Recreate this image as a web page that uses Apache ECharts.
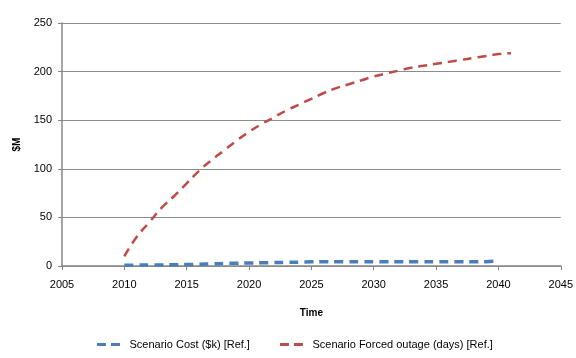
<!DOCTYPE html>
<html><head><meta charset="utf-8">
<script src="https://cdn.jsdelivr.net/npm/echarts@6/dist/echarts.min.js"></script>
<style>html,body{margin:0;padding:0;background:#fff}#c{width:576px;height:358px}</style>
</head><body><div id="c"></div>
<script>
const years = [2010,2011,2012,2013,2014,2015,2016,2017,2018,2019,2020,2021,2022,2023,2024,2025,2026,2027,2028,2029,2030,2031,2032,2033,2034,2035,2036,2037,2038,2039,2040,2041];
const costValues = [0.8,0.9,1,1.1,1.3,1.5,1.8,2.1,2.6,2.9,3.1,3.3,3.5,3.7,4.0,4.3,4.4,4.4,4.4,4.4,4.4,4.4,4.4,4.4,4.4,4.4,4.4,4.4,4.4,4.5,5.2,null];
const outageValues = [10,30,45,60,72,85,98,109,119,129,138,146,153,160,166,172,178,183,187,191,195,198,201,204,206,208,210,212,214,216,218,219];
const xTicks = {min:2005,max:2045,step:5};
const yTicks = {min:0,max:250,step:50};
const seriesNames = ['Scenario Cost ($k) [Ref.]','Scenario Forced outage (days) [Ref.]'];

const pairs = (vals) => years.map((y,i)=>[y,vals[i]]).filter(p=>p[1]!==null);
const font = 'Liberation Sans';
const chart = echarts.init(document.getElementById('c'));
chart.setOption({
  animation:false,
  backgroundColor:'#fff',
  grid:{left:62,right:13,top:23,bottom:92},
  xAxis:{type:'value',min:xTicks.min,max:xTicks.max,interval:xTicks.step,
    name:'Time',nameLocation:'middle',nameGap:42,
    nameTextStyle:{fontFamily:font,fontSize:10,fontWeight:'bold',color:'#000'},
    axisLine:{lineStyle:{color:'#868686',width:1.5}},
    axisTick:{show:true,length:4,lineStyle:{color:'#868686'}},
    axisLabel:{fontFamily:font,fontSize:11,color:'#000',margin:13,letterSpacing:1,formatter:v=>String(v)},
    splitLine:{show:false}},
  yAxis:{type:'value',min:yTicks.min,max:yTicks.max,interval:yTicks.step,
    name:'$M',nameLocation:'middle',nameGap:40,nameRotate:90,
    nameTextStyle:{fontFamily:font,fontSize:10,fontWeight:'bold',color:'#000'},
    axisLine:{show:true,lineStyle:{color:'#868686',width:1.5}},
    axisTick:{show:true,length:4,lineStyle:{color:'#868686'}},
    axisLabel:{fontFamily:font,fontSize:11,color:'#000',margin:10},
    splitLine:{lineStyle:{color:'#8c8c8c',width:1}}},
  legend:{bottom:3,left:92,itemGap:30,itemWidth:32,itemHeight:3,
    icon:'path://M0,0H9V3H0Z M14,0H23V3H14Z',
    textStyle:{fontFamily:font,fontSize:11,color:'#000'},
    data:seriesNames},
  series:[
    {name:seriesNames[0],type:'line',data:pairs(costValues),showSymbol:false,smooth:true,
      lineStyle:{color:'#4a7ebb',width:3.5,type:[9,6]},itemStyle:{color:'#4a7ebb'}},
    {name:seriesNames[1],type:'line',data:pairs(outageValues),showSymbol:false,smooth:true,
      lineStyle:{color:'#be4b48',width:2.5,type:[9,6]},itemStyle:{color:'#be4b48'}}
  ]
});
</script></body></html>
